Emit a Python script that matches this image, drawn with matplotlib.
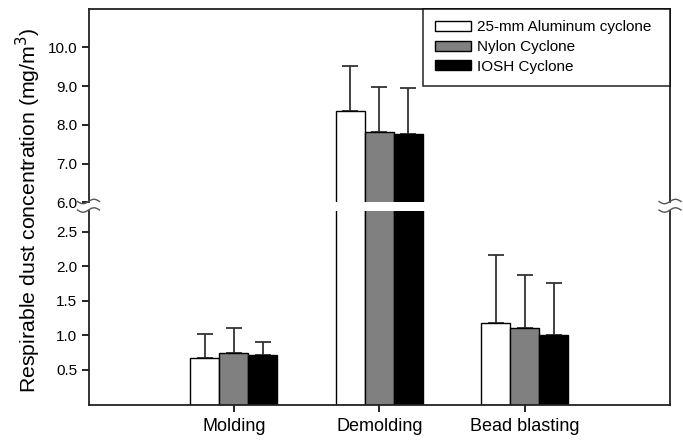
import numpy as np
import matplotlib
matplotlib.use('Agg')
import matplotlib.pyplot as plt

plt.rcParams['font.family'] = ['Liberation Sans', 'DejaVu Sans']

# Data
categories = ['Molding', 'Demolding', 'Bead blasting']
series_names = ['25-mm Aluminum cyclone', 'Nylon Cyclone', 'IOSH Cyclone']
aluminum = [0.67, 8.35, 1.18]
nylon = [0.74, 7.81, 1.11]
iosh = [0.72, 7.77, 1.01]
aluminum_sd = [0.35, 1.18, 0.98]
nylon_sd = [0.37, 1.16, 0.76]
iosh_sd = [0.18, 1.17, 0.75]
lower_ticks = [0.5, 1.0, 1.5, 2.0, 2.5]
upper_ticks = [6.0, 7.0, 8.0, 9.0, 10.0]

W, H = 683, 441
fig = plt.figure(figsize=(W / 100, H / 100), dpi=100)
fig.set_facecolor('white')

left_px, right_px = 88.5, 670
up_top, up_bot = 8.5, 202.5
lo_top, lo_bot = 211, 404.5

def frac(x0, y0, x1, y1):
    return [x0 / W, 1 - y1 / H, (x1 - x0) / W, (y1 - y0) / H]

ax_up = fig.add_axes(frac(left_px, up_top, right_px, up_bot))
ax_lo = fig.add_axes(frac(left_px, lo_top, right_px, lo_bot))

x = np.arange(1, len(categories) + 1)
width = 0.2
colors = ['white', '#808080', 'black']
values = [aluminum, nylon, iosh]
errors = [aluminum_sd, nylon_sd, iosh_sd]

for ax in (ax_up, ax_lo):
    for i, (vals, errs, col, name) in enumerate(zip(values, errors, colors, series_names)):
        pos = x + (i - 1) * width
        ax.errorbar(pos, vals, yerr=[np.zeros(len(vals)), errs], fmt='none',
                    ecolor='#333333', elinewidth=1.3, capsize=5.5, capthick=1.3, zorder=1)
        ax.bar(pos, vals, width, color=col, edgecolor='black', linewidth=1.0,
               label=name, zorder=2)
    ax.set_xlim(0, 4)
    ax.tick_params(axis='y', direction='out', length=5, width=1.2, pad=3,
                   labelsize=11, colors='black')
    for sp in ax.spines.values():
        sp.set_linewidth(1.3)
        sp.set_color('#222222')

ax_up.set_ylim(6.0, 11.0)
ax_up.set_yticks(upper_ticks)
ax_up.set_yticklabels(['%.1f' % t for t in upper_ticks])
ax_up.set_xticks([])
ax_up.spines['bottom'].set_visible(False)

ax_lo.set_ylim(0, 2.8)
ax_lo.set_yticks(lower_ticks)
ax_lo.set_yticklabels(['%.1f' % t for t in lower_ticks])
ax_lo.spines['top'].set_visible(False)
ax_lo.set_xticks(x)
ax_lo.set_xticklabels(categories, fontsize=13)
ax_lo.tick_params(axis='x', direction='out', length=5, width=1.2, pad=5)

x0 = (423 - left_px) / (right_px - left_px)
leg = ax_up.legend(loc='upper left', bbox_to_anchor=(x0, 0, 1 - x0, 1), mode='expand',
                   borderaxespad=0, fontsize=11, frameon=True, fancybox=False,
                   edgecolor='black', handlelength=2.35, handleheight=0.6,
                   handletextpad=0.42, labelspacing=0.37, borderpad=0.78)
leg.get_frame().set_linewidth(1.2)

# break marks on both sides
t = np.linspace(-1, 1, 40)
for xc in (left_px, right_px):
    for yc in (201.5, 210):
        xs = xc + 11 * t
        ys = yc - 2.2 * np.sin(np.pi * t)
        fig.add_artist(plt.Line2D(xs / W, 1 - ys / H, color='#555555', lw=1.0,
                                  transform=fig.transFigure))

fig.text(28 / W, 1 - 210 / H, 'Respirable dust concentration (mg/m$^3$)',
         rotation=90, ha='center', va='center', fontsize=15.3)

fig.savefig('out.png', dpi=100, facecolor='white')
